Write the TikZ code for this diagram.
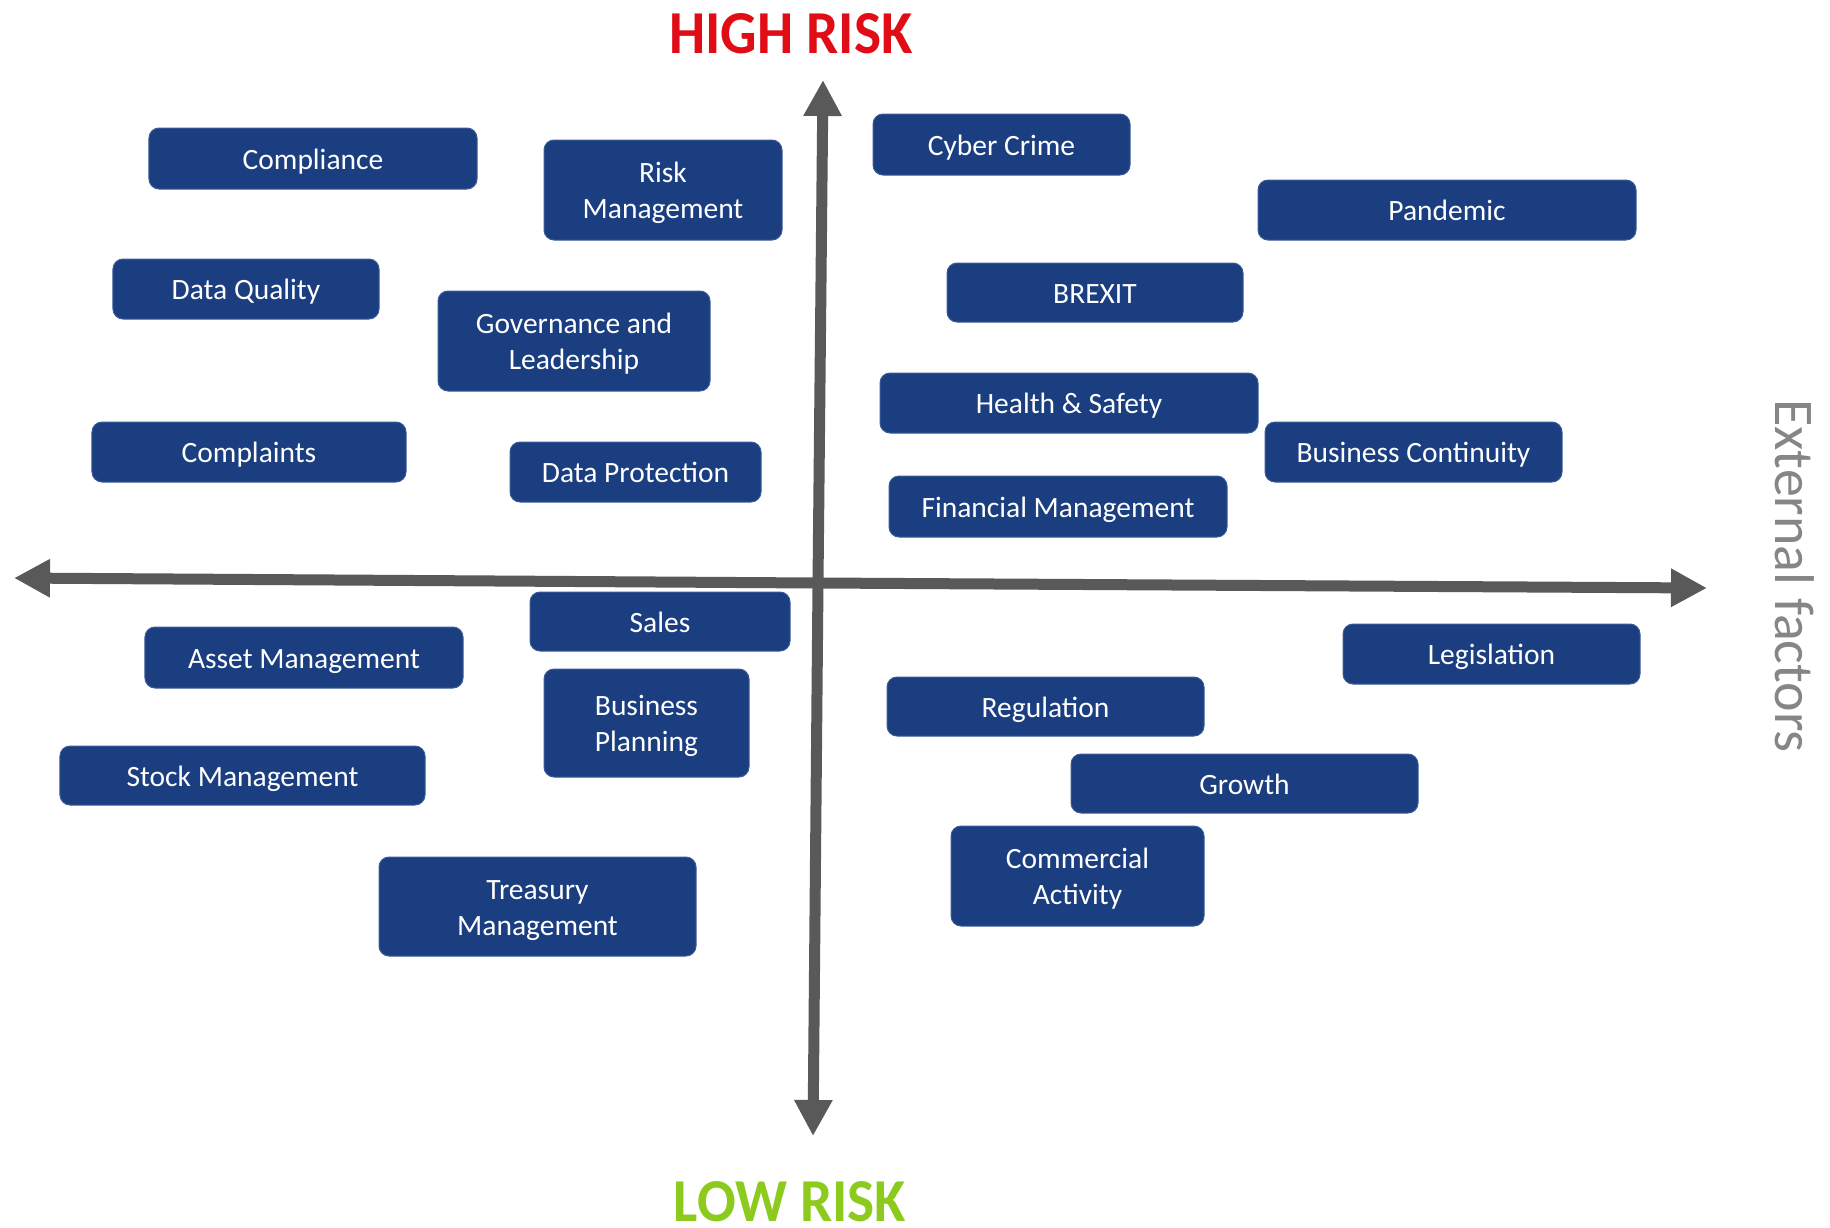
\documentclass[tikz,border=0pt]{standalone}
\usepackage{fontspec}
\setmainfont{Carlito}
\usetikzlibrary{arrows.meta}
\definecolor{boxblue}{HTML}{1A3E80}
\definecolor{boxedge}{HTML}{3A5C98}
\definecolor{axisgrey}{HTML}{595959}
\definecolor{highred}{HTML}{E00D16}
\definecolor{lowgreen}{HTML}{8CCB1E}
\definecolor{extgrey}{HTML}{868686}
\newcommand{\topstrut}{\rule{0pt}{29.6bp}}
\newcommand{\topstrutII}{\rule{0pt}{65.6bp}}
\newcommand{\botstrut}{\rule[-8bp]{0pt}{8bp}}
\tikzset{
  riskbox/.style={draw=boxedge, line width=1bp, fill=boxblue, rounded corners=10bp,
    text=white, inner sep=0pt, align=center,
    font=\fontsize{29.5bp}{36bp}\selectfont,
    execute at begin node=\topstrut, execute at end node=\botstrut},
  riskboxtwo/.style={riskbox, execute at begin node=\topstrutII},
  axisline/.style={draw=axisgrey, line width=11bp,
    -{Triangle[length=36bp,width=36bp]}},
  risktitle/.style={anchor=base, inner sep=0pt, xscale=0.94, transform shape,
    font=\bfseries\fontsize{61bp}{70bp}\selectfont},
}
\begin{document}
\begin{tikzpicture}[x=1bp,y=-1bp]
\useasboundingbox (0,0) rectangle (1830,1227);
% axes
\coordinate (vtop) at (823,80);
\coordinate (vbot) at (813,1136);
\coordinate (hleft) at (14,578);
\coordinate (hright) at (1707,588);
\coordinate (orig) at (818,583);
\draw[axisline] (orig) -- (vtop);
\draw[axisline] (orig) -- (vbot);
\draw[axisline] (orig) -- (hleft);
\draw[axisline] (orig) -- (hright);
% titles
\node[risktitle, text=highred] (high) at (791,53) {HIGH RISK};
\node[risktitle, text=lowgreen] (low) at (790,1221) {LOW RISK};
\node[rotate=-90, inner sep=0pt, text=extgrey, font=\fontsize{56bp}{64bp}\selectfont] (ext) at (1795,576) {External factors};
% boxes
\node[riskbox, minimum width=328bp, minimum height=61bp] (b1) at (313,158.5) {Compliance};
\node[riskboxtwo, minimum width=238bp, minimum height=100bp] (b2) at (663,190) {Risk\\Management};
\node[riskbox, minimum width=257bp, minimum height=61bp] (b3) at (1001.5,144.5) {Cyber Crime};
\node[riskbox, minimum width=378bp, minimum height=60bp] (b4) at (1447,210) {Pandemic};
\node[riskbox, minimum width=266bp, minimum height=60bp] (b5) at (246,289) {Data Quality};
\node[riskboxtwo, minimum width=272bp, minimum height=100bp] (b6) at (574,341) {Governance and\\Leadership};
\node[riskbox, minimum width=296bp, minimum height=59bp] (b7) at (1095,292.5) {BREXIT};
\node[riskbox, minimum width=378bp, minimum height=60bp] (b8) at (1069,403) {Health \& Safety};
\node[riskbox, minimum width=297bp, minimum height=60bp] (b9) at (1413.5,452) {Business Continuity};
\node[riskbox, minimum width=314bp, minimum height=60bp] (b10) at (249,452) {Complaints};
\node[riskbox, minimum width=251bp, minimum height=60bp] (b11) at (635.5,472) {Data Protection};
\node[riskbox, minimum width=338bp, minimum height=61bp] (b12) at (1058,506.5) {Financial Management};
\node[riskbox, minimum width=260bp, minimum height=59bp] (b13) at (660,621.5) {Sales};
\node[riskbox, minimum width=318bp, minimum height=61bp] (b14) at (304,657.5) {Asset Management};
\node[riskbox, minimum width=297bp, minimum height=60bp] (b15) at (1491.5,654) {Legislation};
\node[riskboxtwo, minimum width=205bp, minimum height=108bp] (b16) at (646.5,723) {Business\\Planning};
\node[riskbox, minimum width=317bp, minimum height=59bp] (b17) at (1045.5,706.5) {Regulation};
\node[riskbox, minimum width=365bp, minimum height=59bp] (b18) at (242.5,775.5) {Stock Management};
\node[riskbox, minimum width=347bp, minimum height=59bp] (b19) at (1244.5,783.5) {Growth};
\node[riskboxtwo, minimum width=253bp, minimum height=100bp] (b20) at (1077.5,876) {Commercial\\Activity};
\node[riskboxtwo, minimum width=317bp, minimum height=99bp] (b21) at (537.5,906.5) {Treasury\\Management};
\end{tikzpicture}
\end{document}
